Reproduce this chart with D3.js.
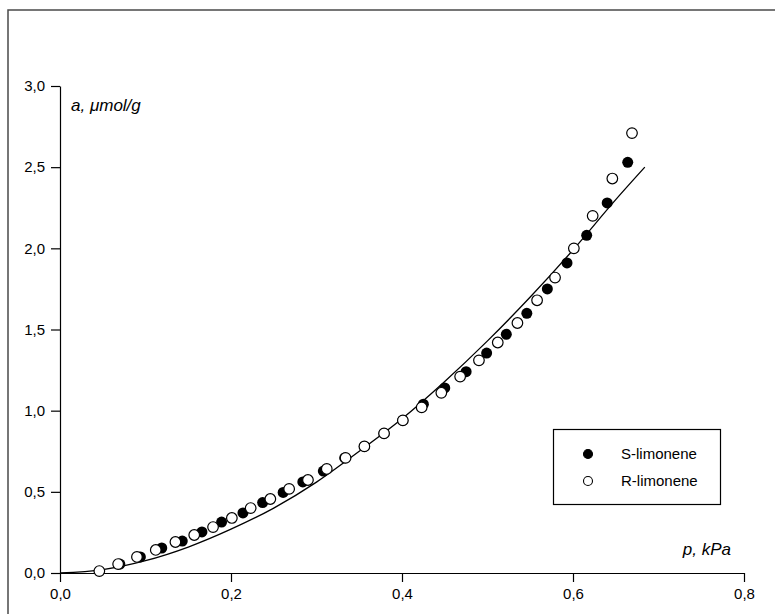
<!DOCTYPE html>
<html>
<head>
<meta charset="utf-8">
<script src="https://cdn.jsdelivr.net/npm/d3@7"></script>
<style>
  body { margin: 0; background: #fff; }
  svg { display: block; font-family: Arial, "Liberation Sans", sans-serif; }
</style>
</head>
<body>
<script>
// S-limonene (filled circles)
var sP = [0.070, 0.094, 0.119, 0.143, 0.166, 0.189, 0.214, 0.237, 0.261, 0.284, 0.308, 0.333, 0.356,
          0.379, 0.401, 0.425, 0.450, 0.475, 0.499, 0.522, 0.546, 0.570, 0.593, 0.616, 0.640, 0.664];
var sA = [0.055, 0.099, 0.154, 0.197, 0.253, 0.314, 0.370, 0.434, 0.496, 0.561, 0.628, 0.709, 0.780,
          0.860, 0.940, 1.040, 1.140, 1.240, 1.355, 1.470, 1.600, 1.750, 1.910, 2.080, 2.280, 2.530];

// R-limonene (open circles)
var rP = [0.046, 0.068, 0.090, 0.112, 0.135, 0.157, 0.179, 0.201, 0.223, 0.246, 0.268, 0.290, 0.312,
          0.334, 0.356, 0.379, 0.401, 0.423, 0.446, 0.468, 0.490, 0.512, 0.535, 0.558, 0.579, 0.601,
          0.623, 0.646, 0.669];
var rA = [0.012, 0.055, 0.099, 0.142, 0.191, 0.234, 0.283, 0.339, 0.400, 0.456, 0.518, 0.573, 0.641,
          0.709, 0.780, 0.860, 0.940, 1.020, 1.110, 1.210, 1.310, 1.420, 1.540, 1.680, 1.820, 2.000,
          2.200, 2.430, 2.710];

// fitted curve
var fitP = [0, 0.05, 0.10, 0.15, 0.20, 0.25, 0.30, 0.35, 0.40, 0.45, 0.50, 0.55, 0.60, 0.65, 0.684];
var fitA = [0, 0.021, 0.076, 0.16, 0.27, 0.40, 0.56, 0.75, 0.95, 1.18, 1.43, 1.70, 1.99, 2.30, 2.50];

var xTicks = [0, 0.2, 0.4, 0.6, 0.8];
var yTicks = [0, 0.5, 1.0, 1.5, 2.0, 2.5, 3.0];
var legendLabels = ["S-limonene", "R-limonene"];

var width = 775, height = 614;
var fmt = function(d) { return d3.format(".1f")(d).replace(".", ","); };

var svg = d3.select("body").append("svg")
    .attr("width", width)
    .attr("height", height);

// outer frame, runs off the right and bottom of the page
svg.append("rect")
    .attr("x", 8).attr("y", 10)
    .attr("width", 800).attr("height", 700)
    .attr("fill", "none")
    .attr("stroke", "#4a4a4a")
    .attr("stroke-width", 1.5);

var x = d3.scaleLinear().domain([0, 0.8]).range([60, 744]);
var y = d3.scaleLinear().domain([0, 3]).range([573, 86]);

// axes
var xAxis = svg.append("g")
    .attr("transform", "translate(0," + y(0) + ")")
    .call(d3.axisBottom(x).tickValues(xTicks).tickFormat(fmt).tickSize(9).tickPadding(6).tickSizeOuter(0));
var yAxis = svg.append("g")
    .attr("transform", "translate(" + x(0) + ",0)")
    .call(d3.axisLeft(y).tickValues(yTicks).tickFormat(fmt).tickSize(9).tickPadding(6).tickSizeOuter(0));

[xAxis, yAxis].forEach(function(a) {
  a.selectAll("path, line").attr("stroke", "#000").attr("stroke-width", 1.2);
  a.selectAll("text").attr("fill", "#000").style("font-size", "15px")
    .style("font-family", "Arial, 'Liberation Sans', sans-serif");
});

// axis titles
svg.append("text")
    .attr("x", 71).attr("y", 111)
    .style("font-size", "17px").style("font-style", "italic")
    .text("a, \u03BCmol/g");
svg.append("text")
    .attr("x", 731).attr("y", 555)
    .attr("text-anchor", "end")
    .style("font-size", "17px").style("font-style", "italic")
    .text("p, kPa");

// fitted curve
var line = d3.line()
    .x(function(d) { return x(d[0]); })
    .y(function(d) { return y(d[1]); })
    .curve(d3.curveMonotoneX);
svg.append("path")
    .datum(d3.zip(fitP, fitA))
    .attr("d", line)
    .attr("fill", "none")
    .attr("stroke", "#000")
    .attr("stroke-width", 1.3);

// data points
svg.append("g").selectAll("circle")
    .data(d3.zip(sP, sA))
  .enter().append("circle")
    .attr("cx", function(d) { return x(d[0]); })
    .attr("cy", function(d) { return y(d[1]); })
    .attr("r", 5.5)
    .attr("fill", "#000");

svg.append("g").selectAll("circle")
    .data(d3.zip(rP, rA))
  .enter().append("circle")
    .attr("cx", function(d) { return x(d[0]); })
    .attr("cy", function(d) { return y(d[1]); })
    .attr("r", 5.3)
    .attr("fill", "#fff")
    .attr("stroke", "#000")
    .attr("stroke-width", 1.2);

// legend
var legend = svg.append("g");
legend.append("rect")
    .attr("x", 553.5).attr("y", 429.5)
    .attr("width", 167).attr("height", 75)
    .attr("fill", "#fff")
    .attr("stroke", "#000")
    .attr("stroke-width", 1.2);
legendLabels.forEach(function(lab, i) {
  var ly = 454 + i * 27;
  legend.append("circle")
      .attr("cx", 588).attr("cy", ly)
      .attr("r", 4.5)
      .attr("fill", i === 0 ? "#000" : "#fff")
      .attr("stroke", "#000")
      .attr("stroke-width", 1.1);
  legend.append("text")
      .attr("x", 621).attr("y", ly + 5)
      .style("font-size", "15px")
      .text(lab);
});
</script>
</body>
</html>
